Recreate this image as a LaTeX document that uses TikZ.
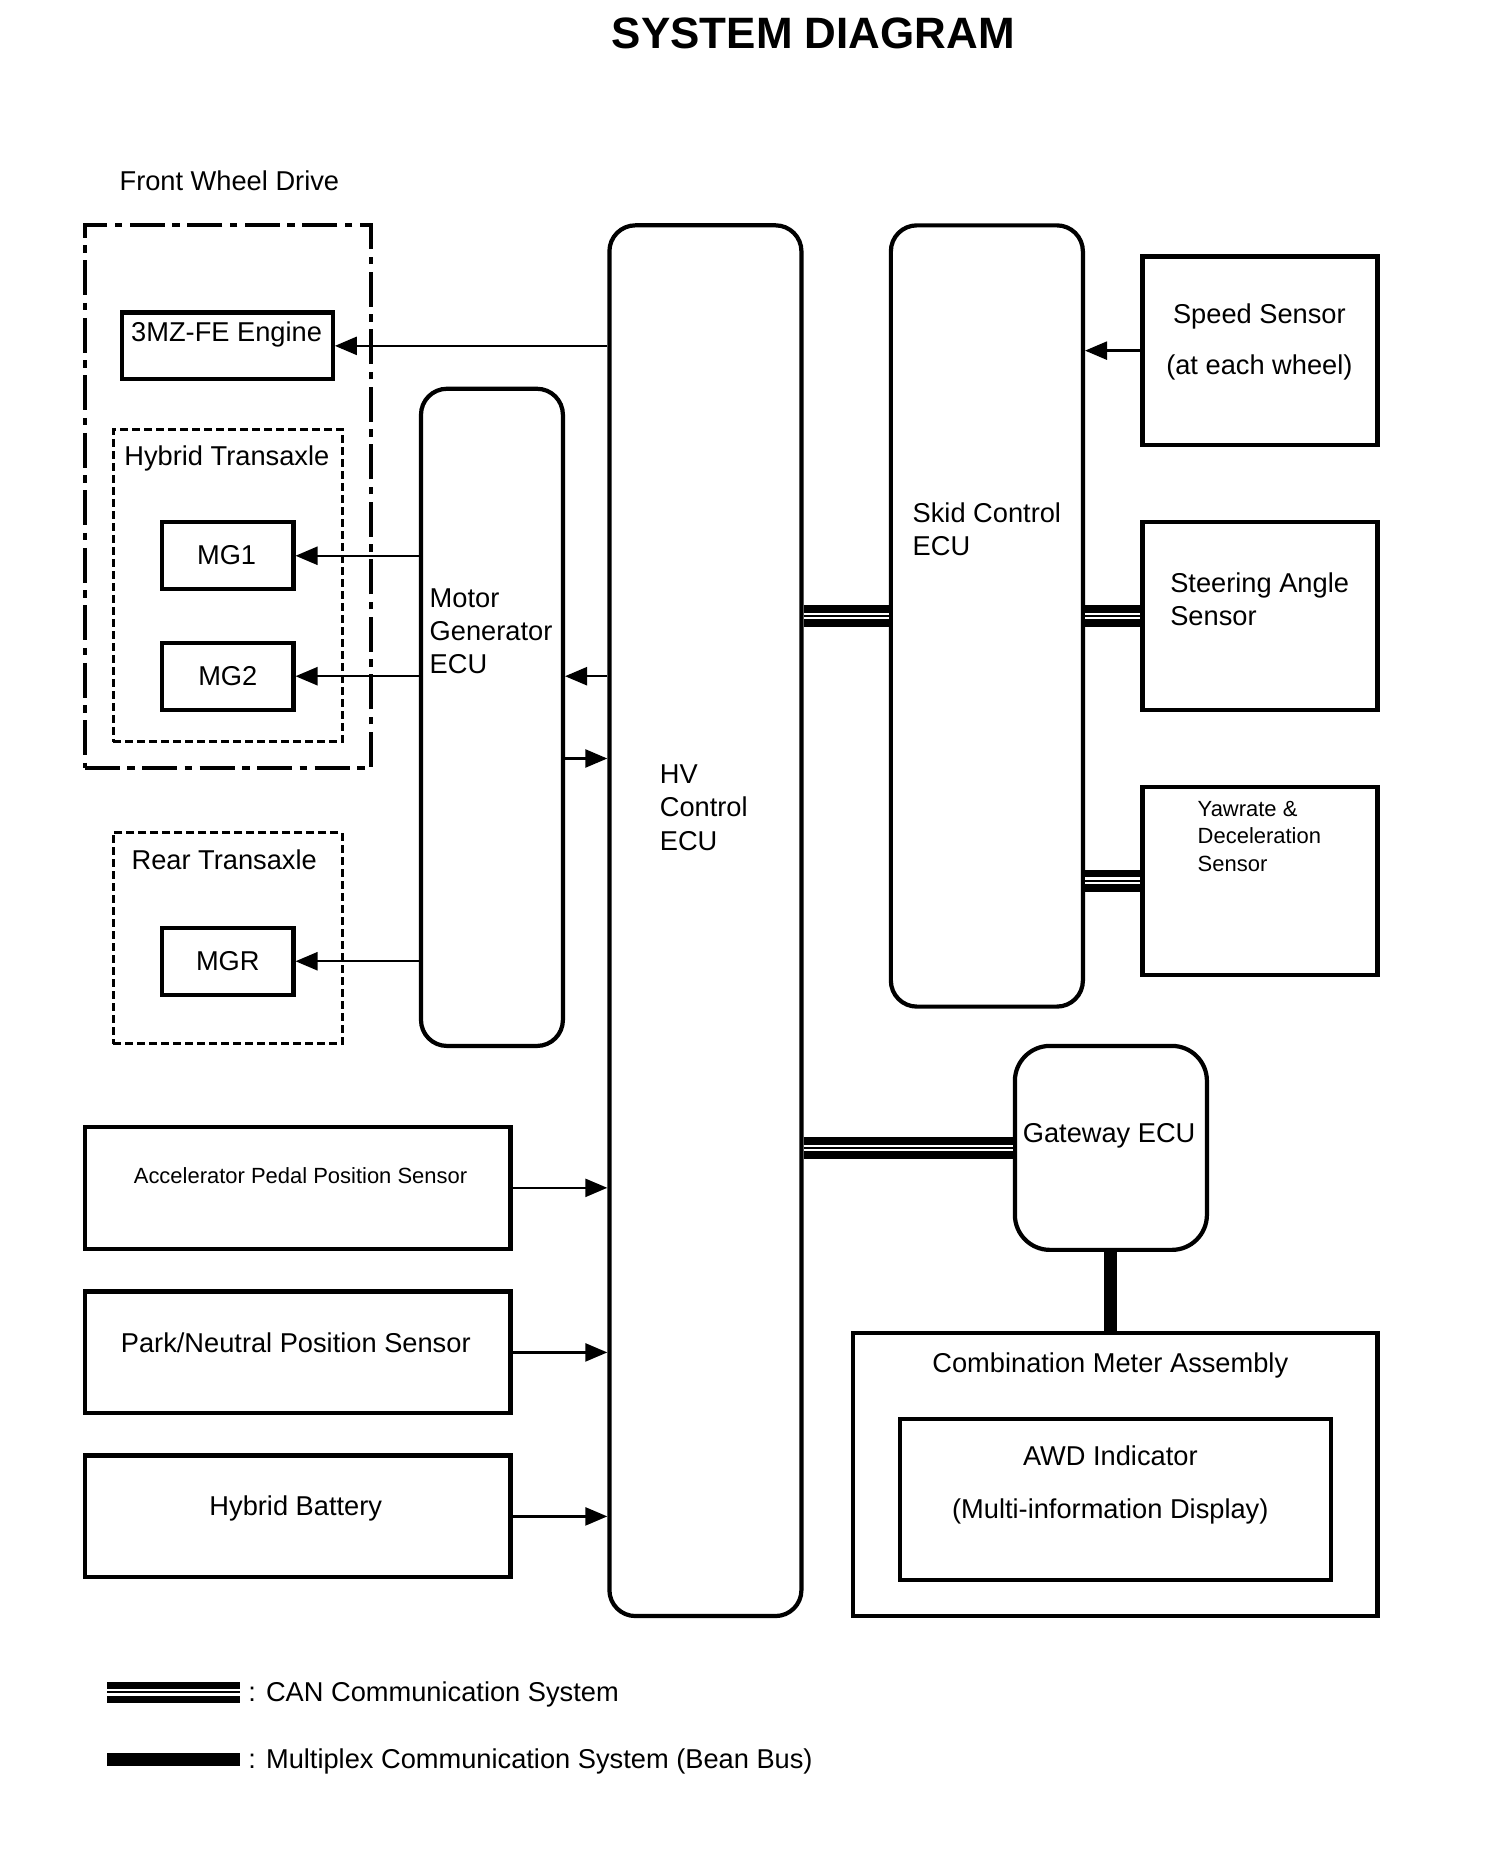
\documentclass[tikz,border=0pt]{standalone}
\usepackage{fontspec}
\setmainfont{Liberation Sans}
\usetikzlibrary{arrows.meta}

\tikzset{
    txt/.style={inner sep=0pt, font=\fontsize{15.5}{19}\selectfont},
    small/.style={inner sep=0pt, font=\fontsize{12.5}{15}\selectfont},
    can/.style={line width=0.43cm, postaction={draw=white, line width=0.13cm}, postaction={draw, line width=0.04cm}},
    bean/.style={line width=0.26cm}
}

\begin{document}
\begin{tikzpicture}[x=0.023852cm, y=-0.023852cm, >={Triangle[length=0.44cm, width=0.36cm]}]
            \useasboundingbox (0,0) rectangle (1261,1568);

            \node[txt, font=\fontsize{25}{30}\selectfont\bfseries, anchor=base] (title) at (682,41) {SYSTEM DIAGRAM};

            % groups
            \node[draw, line width=2.4pt, dash pattern=on 0.7cm off 0.15cm on 0.15cm off 0.15cm, minimum width=5.724cm, minimum height=10.853cm] (fwd) at (191,416.5) {};
            \begin{scope}[every node/.style={draw, line width=1.6pt, dash pattern=on 0.16cm off 0.08cm, inner sep=0pt, minimum width=4.58cm}]
                \node[minimum height=6.249cm] (hta) at (191,491) {};
                \node[minimum height=4.222cm] (rta) at (191,786.5) {};
            \end{scope}

            % plain boxes
            \begin{scope}[every node/.style={draw, line width=2.4pt, inner sep=0pt}]
                \node[minimum width=4.222cm, minimum height=1.336cm] (eng) at (190.5,290) {};
                \node[minimum width=2.624cm, minimum height=1.336cm] (mg1) at (191,466) {};
                \node[minimum width=2.624cm, minimum height=1.336cm] (mg2) at (191,567) {};
                \node[minimum width=2.624cm, minimum height=1.336cm] (mgr) at (191,806) {};
                \node[minimum width=4.699cm, minimum height=3.769cm] (spd) at (1056.5,294) {};
                \node[minimum width=4.699cm, minimum height=3.757cm] (sas) at (1056.5,516.5) {};
                \node[minimum width=4.699cm, minimum height=3.757cm] (yaw) at (1056.5,738.5) {};
                \node[minimum width=8.515cm, minimum height=2.433cm] (acc) at (249.5,996) {};
                \node[minimum width=8.515cm, minimum height=2.433cm] (pnp) at (249.5,1134) {};
                \node[minimum width=8.515cm, minimum height=2.433cm] (bat) at (249.5,1271.5) {};
                \node[minimum width=10.495cm, minimum height=5.653cm] (cma) at (935,1236.5) {};
                \node[minimum width=8.611cm, minimum height=3.22cm] (awd) at (935.5,1257.5) {};
            \end{scope}

            % ECUs
            \begin{scope}[every node/.style={draw, line width=2.4pt, inner sep=0pt, rounded corners=0.52cm}]
                \node[minimum width=2.838cm, minimum height=13.142cm] (mgecu) at (412.5,601.5) {};
                \node[minimum width=3.84cm, minimum height=27.811cm] (hv) at (591.5,772) {};
                \node[minimum width=3.84cm, minimum height=15.623cm] (skid) at (827.5,516.5) {};
                \node[minimum width=3.84cm, minimum height=4.079cm, rounded corners=0.7cm] (gw) at (931.5,962.5) {};
            \end{scope}

            % labels
            \node[txt, anchor=base west] (t-fwd) at (100,160) {Front Wheel Drive};
            \node[txt, anchor=base] (t-eng) at (190,286) {3MZ-FE Engine};
            \node[txt, anchor=base west] (t-hta) at (104,390) {Hybrid Transaxle};
            \node[txt, anchor=base] (t-mg1) at (190,473) {MG1};
            \node[txt, anchor=base] (t-mg2) at (191,575) {MG2};
            \node[txt, anchor=base] (t-rta) at (188,729) {Rear Transaxle};
            \node[txt, anchor=base] (t-mgr) at (191,814) {MGR};
            \node[txt, anchor=north west, align=left] (t-mgecu) at (360,493) {Motor\\Generator\\ECU};
            \node[txt, anchor=north west, align=left] (t-hv) at (553,641) {HV\\Control\\ECU};
            \node[txt, anchor=north west, align=left] (t-skid) at (765,421) {Skid Control\\ECU};
            \node[txt, anchor=base] (t-spd1) at (1056,271) {Speed Sensor};
            \node[txt, anchor=base] (t-spd2) at (1056,314) {(at each wheel)};
            \node[txt, anchor=north west, align=left] (t-sas) at (981,480) {Steering Angle\\Sensor};
            \node[small, anchor=north west, align=left, font=\fontsize{12.5}{15.7}\selectfont] (t-yaw) at (1004,671.5) {Yawrate \&\\Deceleration\\Sensor};
            \node[txt, anchor=base] (t-gw) at (930,958) {Gateway ECU};
            \node[small, anchor=base] (t-acc) at (252,992.5) {Accelerator Pedal Position Sensor};
            \node[txt, anchor=base] (t-pnp) at (248,1134) {Park/Neutral Position Sensor};
            \node[txt, anchor=base] (t-bat) at (248,1271) {Hybrid Battery};
            \node[txt, anchor=base] (t-cma) at (931,1151) {Combination Meter Assembly};
            \node[txt, anchor=base] (t-awd1) at (931,1229) {AWD Indicator};
            \node[txt, anchor=base] (t-awd2) at (931,1273) {(Multi-information Display)};

            % signal lines
            \coordinate (fb) at (0,636);
            \begin{scope}[line width=1.4pt]
                \path [->] (hv.west |- eng.east) edge (eng.east);
                \path [->] (mgecu.west |- mg1.east) edge (mg1.east);
                \path [->] (mgecu.west |- mg2.east) edge (mg2.east);
                \path [->] (mgecu.west |- mgr.east) edge (mgr.east);
                \path [->] (hv.west |- mg2.east) edge (mgecu.east |- mg2.east);
                \path [->] (mgecu.east |- fb) edge (hv.west |- fb);
                \path [->] (spd.west) edge (skid.east |- spd.west);
                \path [->] (acc.east) edge (hv.west |- acc.east);
                \path [->] (pnp.east) edge (hv.west |- pnp.east);
                \path [->] (bat.east) edge (hv.west |- bat.east);
            \end{scope}

            % bus lines
            \draw[can] (hv.east |- sas.west) -- (skid.west |- sas.west);
            \draw[can] (skid.east |- sas.west) -- (sas.west);
            \draw[can] (skid.east |- yaw.west) -- (yaw.west);
            \draw[can] (hv.east |- gw.west) -- (gw.west);
            \draw[bean] (gw.south) -- (gw.south |- cma.north);

            % legend
            \coordinate (can1) at (90,1419);
            \coordinate (can2) at (201,1419);
            \coordinate (bean1) at (90,1475);
            \coordinate (bean2) at (201,1475);
            \draw[can] (can1) -- (can2);
            \draw[bean] (bean1) -- (bean2);
            \node[txt, anchor=base west] (l-can) at (208,1427) {: CAN Communication System};
            \node[txt, anchor=base west] (l-bean) at (208,1483) {: Multiplex Communication System (Bean Bus)};
\end{tikzpicture}
\end{document}
